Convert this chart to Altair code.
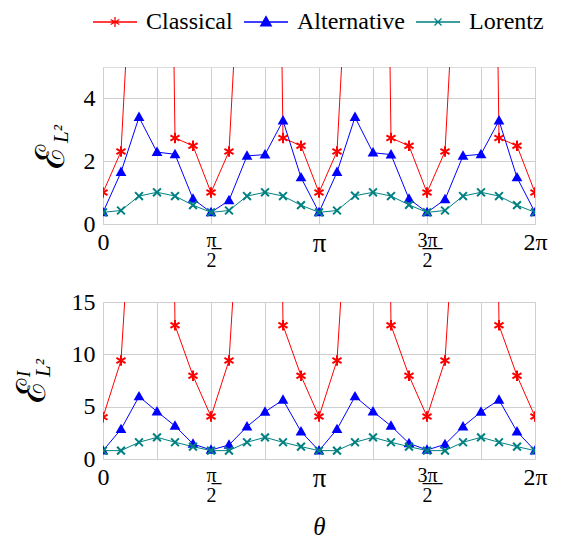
import math
import altair as alt
import pandas as pd

PI = math.pi

# x positions: multiples of pi/12 from 0 to 2*pi
x_steps = list(range(25))

series_names = ["Classical", "Alternative", "Lorentz"]
series_colors = ["#ff0000", "#0000ff", "#008080"]

# top panel: E_{L^2}
top_classical = [1.00, 2.31, 13.0, 45.0, 2.74, 2.49, 1.00, 2.31, 13.0, 45.0, 2.74, 2.49,
                 1.00, 2.31, 13.0, 45.0, 2.74, 2.49, 1.00, 2.31, 13.0, 45.0, 2.74, 2.49, 1.00]
top_alternative = [0.37, 1.65, 3.40, 2.29, 2.22, 0.80, 0.37, 0.75, 2.17, 2.21, 3.29, 1.48,
                   0.37, 1.65, 3.40, 2.27, 2.21, 0.80, 0.37, 0.78, 2.17, 2.22, 3.29, 1.48, 0.37]
top_lorentz = [0.37, 0.43, 0.89, 1.01, 0.89, 0.60, 0.37, 0.43, 0.89, 1.01, 0.89, 0.60,
               0.37, 0.43, 0.90, 1.01, 0.89, 0.61, 0.37, 0.43, 0.89, 1.01, 0.89, 0.60, 0.37]

# bottom panel: E^I_{L^2}
bot_classical = [4.00, 9.42, 36.8, 150.0, 12.77, 7.95, 4.05, 9.42, 36.8, 150.0, 12.77, 7.95,
                 4.05, 9.42, 36.8, 150.0, 12.77, 7.95, 4.05, 9.42, 36.8, 150.0, 12.77, 7.95, 4.05]
bot_alternative = [0.80, 2.84, 5.97, 4.53, 3.16, 1.44, 0.86, 1.34, 3.10, 4.50, 5.65, 2.62,
                   0.80, 2.84, 5.97, 4.53, 3.16, 1.50, 0.86, 1.40, 3.10, 4.50, 5.65, 2.62, 0.80]
bot_lorentz = [0.80, 0.80, 1.60, 2.07, 1.60, 1.18, 0.80, 0.80, 1.60, 2.07, 1.60, 1.18,
               0.80, 0.80, 1.60, 2.07, 1.60, 1.18, 0.80, 0.80, 1.60, 2.07, 1.60, 1.18, 0.80]

x_tick_steps = [0, 1, 2, 3, 4, 5, 6, 7, 8]  # multiples of pi/4
top_yticks = [0, 2, 4]
bot_yticks = [0, 5, 10, 15]

FONT = "'Liberation Serif', 'Times New Roman', serif"
AST = "M0,-1V1M-0.87,-0.5L0.87,0.5M-0.87,0.5L0.87,-0.5"
TRI = "M0,-1.1L1.05,0.75L-1.05,0.75Z"
XMK = "M-0.7,-0.7L0.7,0.7M-0.7,0.7L0.7,-0.7"
LEG_LINE = "M-4.4,0H4.4"

W, H = 432, 157


def long_df(cl, al, lo):
    rows = []
    for name, vals in zip(series_names, [cl, al, lo]):
        for k, v in zip(x_steps, vals):
            rows.append({"series": name, "x": k * PI / 12, "y": v})
    return pd.DataFrame(rows)


frac_test = "abs(datum.value - PI/2) < 0.01 || abs(datum.value - 3*PI/2) < 0.01"
pi_test = "abs(datum.value - PI) < 0.01"
label_expr = (
    "abs(datum.value) < 0.01 ? '0' : "
    "abs(datum.value - PI/2) < 0.01 ? ['\u03c0\u0332', '2'] : "
    "abs(datum.value - PI) < 0.01 ? '\u03c0' : "
    "abs(datum.value - 3*PI/2) < 0.01 ? ['3\u0332\u03c0\u0332', '2'] : "
    "abs(datum.value - 2*PI) < 0.01 ? '2\u03c0' : ''"
)


def x_axis(title=None):
    kw = dict(
        values=[k * PI / 4 for k in x_tick_steps],
        labelExpr=label_expr,
        labelFont=FONT,
        labelFontSize={"condition": [{"test": frac_test, "value": 20},
                                     {"test": pi_test, "value": 27}], "value": 24},
        labelBaseline="top",
        labelLineHeight=20,
        labelPadding=6,
        labelColor="black",
        ticks=False,
        domain=False,
        grid=True,
        gridColor="#cfcfcf",
        labelAngle=0,
        labelFlush=False,
    )
    if title:
        kw.update(title=title, titleFont=FONT, titleFontSize=25, titleFontStyle="italic",
                  titleFontWeight="normal", titlePadding=9, titleColor="black")
    else:
        kw.update(title=None)
    return alt.Axis(**kw)


def y_axis(vals):
    return alt.Axis(values=vals, title=None, labelFont=FONT, labelFontSize=24,
                    labelColor="black", labelPadding=8, ticks=False, domain=False,
                    grid=True, gridColor="#cfcfcf")


def panel(df, ymax, yticks, xtitle, legend, title_layers):
    xs = alt.X("x:Q", scale=alt.Scale(domain=[0, 2 * PI], nice=False, zero=False),
               axis=x_axis(xtitle))
    ys = alt.Y("y:Q", scale=alt.Scale(domain=[0, ymax], nice=False), axis=y_axis(yticks))
    layers = []
    shapes = [AST, TRI, XMK]
    sizes = [110, 105, 125]
    filled = [False, True, False]
    widths = [2.0, 1.0, 2.0]
    for name, col, shp, sz, fl, sw in zip(series_names, series_colors, shapes, sizes, filled, widths):
        sub = df[df["series"] == name]
        line = alt.Chart(sub).mark_line(clip=True, strokeWidth=1.0, color=col).encode(x=xs, y=ys)
        pts = alt.Chart(sub).mark_point(clip=True, shape=shp, size=sz, filled=fl, color=col,
                                        strokeWidth=sw, opacity=1).encode(x=xs, y=ys)
        layers += [line, pts]
    if legend:
        leg = alt.Legend(orient="none", legendX=0, legendY=-57, direction="horizontal",
                         title=None, labelFont=FONT, labelFontSize=24, labelColor="black",
                         symbolSize=100, symbolStrokeWidth=1.3, labelOffset=19,
                         columnPadding=8, columns=3, symbolOpacity=1, gridAlign="each",
                         padding=0)
        dom = series_names
        leg_df = pd.DataFrame({"series": series_names, "x": [0.0] * 3, "y": [0.0] * 3})
        leg_layer = alt.Chart(leg_df).transform_filter("false").mark_point(
            filled=True, opacity=1, strokeWidth=1.3
        ).encode(
            x=xs, y=ys,
            shape=alt.Shape("series:N", scale=alt.Scale(domain=dom, range=[LEG_LINE + AST, LEG_LINE + TRI, LEG_LINE + XMK]), legend=leg),
            fill=alt.Fill("series:N", scale=alt.Scale(domain=dom, range=series_colors), legend=leg),
            stroke=alt.Stroke("series:N", scale=alt.Scale(domain=dom, range=series_colors), legend=leg),
        )
        layers.append(leg_layer)
    layers += title_layers
    return alt.layer(*layers).properties(width=W, height=H)


def txt(s, x, y, size, style="normal", font="'DejaVu Serif', serif"):
    return alt.Chart(pd.DataFrame({"t": [s]})).mark_text(
        angle=270, align="center", baseline="alphabetic", font=font, fontSize=size,
        fontStyle=style, color="black"
    ).encode(text="t:N", x=alt.value(x), y=alt.value(y))


top_titles = [
    txt("\u2130", -39, 90, 40),
    txt("L\u00b2", -35, 67, 21, "italic", FONT),
]
bot_titles = [
    txt("\u2130", -58, 89, 40),
    txt("I", -73, 72, 19, "italic", FONT),
    txt("L\u00b2", -53, 66, 21, "italic", FONT),
]

top = panel(long_df(top_classical, top_alternative, top_lorentz), 5, top_yticks, None, True, top_titles)
bot = panel(long_df(bot_classical, bot_alternative, bot_lorentz), 15, bot_yticks, "\u03b8", False, bot_titles)

chart = alt.vconcat(top, bot, spacing=18).properties(
    padding={"left": 4, "top": 2, "right": 5, "bottom": 0}
).configure_view(stroke="black", strokeWidth=1.2).configure(background="white")

chart.save("out.html", embed_options={"renderer": "svg", "actions": False})
